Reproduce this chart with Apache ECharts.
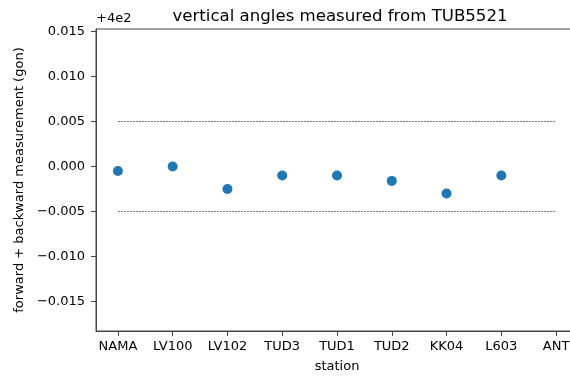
<!DOCTYPE html>
<html>
<head>
<meta charset="utf-8">
<script src="https://cdn.jsdelivr.net/npm/echarts@6/dist/echarts.min.js"></script>
<style>html,body{margin:0;padding:0;background:#fff}#c{width:570px;height:376px}</style>
</head>
<body>
<div id="c"></div>
<script>
// station names (x categories)
const stations = ['NAMA', 'LV100', 'LV102', 'TUD3', 'TUD1', 'TUD2', 'KK04', 'L603', 'ANT'];
// forward + backward measurement (gon), stored as offset from 400 (axis offset +4e2)
const offsetBase = 400;
const values = [-0.0005, 0.0, -0.0025, -0.001, -0.001, -0.0016, -0.003, -0.001];
// tolerance band lines
const tolerance = [0.005, -0.005];
// y tick values
const yTicks = [-0.015, -0.010, -0.005, 0.000, 0.005, 0.010, 0.015];

const FONT = 'DejaVu Sans';
const chart = echarts.init(document.getElementById('c'), null, {renderer: 'canvas'});

const xIdx = stations.map((s, i) => i);
const pts = values.map((v, i) => [i, v]);

const series = [{
  type: 'scatter',
  data: pts,
  symbolSize: 10,
  itemStyle: {color: '#1f77b4', opacity: 1},
  z: 5
}];
tolerance.forEach(t => {
  series.push({
    type: 'line',
    data: [[0, t], [stations.length - 1, t]],
    symbol: 'none',
    silent: true,
    lineStyle: {color: '#555', width: 0.8, type: [2, 1]},
    z: 3
  });
});

function fmtY(v) {
  const s = Math.abs(v).toFixed(3);
  return (v < -1e-9 ? '\u2212' : '') + s;
}

chart.setOption({
  animation: false,
  title: {
    text: 'vertical angles measured from TUB5521',
    left: 335, top: 3, textAlign: 'center',
    textStyle: {fontFamily: FONT, fontSize: 16.6, fontWeight: 'normal', color: '#000'}
  },
  graphic: [{
    type: 'text', left: 96, top: 12,
    style: {text: '+4e2', fontFamily: FONT, fontSize: 13, fill: '#000'}
  }],
  grid: {left: 96, width: 482, top: 29, bottom: 45, outerBoundsMode: 'none', containLabel: false,
    show: true, borderColor: '#444', borderWidth: 1, backgroundColor: 'transparent'},
  xAxis: {
    type: 'value', min: -0.4, max: stations.length - 1 + 0.4,
    name: 'station', nameLocation: 'middle', nameGap: 29,
    nameTextStyle: {fontFamily: FONT, fontSize: 13, color: '#000'},
    splitLine: {show: false},
    axisLine: {show: true, onZero: false, lineStyle: {color: '#444', width: 1}},
    axisTick: {show: true, length: 5, customValues: xIdx, lineStyle: {color: '#444'}},
    axisLabel: {customValues: xIdx, margin: 9, fontFamily: FONT, fontSize: 13, color: '#000',
      formatter: v => stations[Math.round(v)] || ''}
  },
  yAxis: {
    type: 'value', min: -0.01828, max: 0.01528,
    name: 'forward + backward measurement (gon)', nameLocation: 'middle', nameGap: 70,
    nameTextStyle: {fontFamily: FONT, fontSize: 13, color: '#000'},
    splitLine: {show: false},
    axisLine: {show: true, onZero: false, lineStyle: {color: '#444', width: 1}},
    axisTick: {show: true, length: 5, customValues: yTicks, lineStyle: {color: '#444'}},
    axisLabel: {customValues: yTicks, margin: 11, fontFamily: FONT, fontSize: 13, color: '#000',
      formatter: fmtY}
  },
  series: series
});
</script>
</body>
</html>
